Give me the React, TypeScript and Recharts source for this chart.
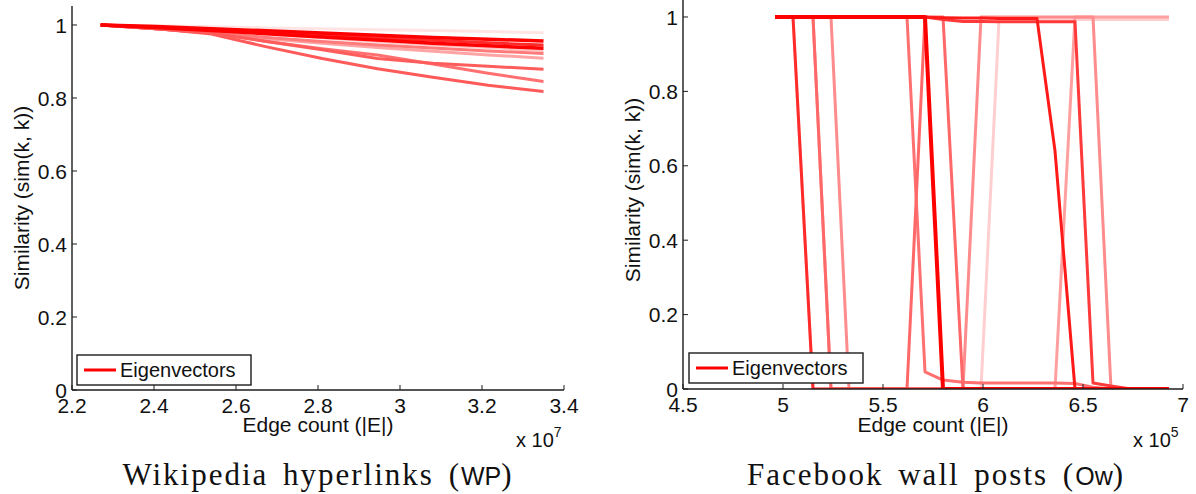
import { LineChart, Line, XAxis, YAxis } from 'recharts';

const SANS = '"Liberation Sans", Arial, Helvetica, sans-serif';
const SERIF = '"Liberation Serif", "Times New Roman", serif';
const INK = '#1c1c1c';
const TICK_LEN = 5;

// Wikipedia hyperlinks (WP): edge counts in units of 10^7
const wpEdges = [2.27, 2.405, 2.54, 2.675, 2.81, 2.945, 3.08, 3.215, 3.35];
const wpSimA = [1, 0.998, 0.995, 0.992, 0.99, 0.987, 0.985, 0.982, 0.979];
const wpSimB = [1, 0.993, 0.985, 0.975, 0.965, 0.955, 0.946, 0.938, 0.93];
const wpSimC = [1, 0.99, 0.978, 0.962, 0.95, 0.938, 0.928, 0.918, 0.909];
const wpSimD = [1, 0.99, 0.98, 0.966, 0.955, 0.945, 0.937, 0.929, 0.922];
const wpSimE = [1, 0.99, 0.977, 0.955, 0.935, 0.918, 0.893, 0.868, 0.845];
const wpSimF = [1, 0.99, 0.978, 0.955, 0.932, 0.908, 0.895, 0.887, 0.879];
const wpSimG = [1, 0.99, 0.975, 0.94, 0.908, 0.88, 0.857, 0.835, 0.818];
const wpSimH = [1, 0.994, 0.987, 0.98, 0.972, 0.965, 0.958, 0.951, 0.945];
const wpSimI = [1, 0.993, 0.985, 0.976, 0.967, 0.959, 0.95, 0.943, 0.936];
const wpSimJ = [1, 0.996, 0.99, 0.984, 0.978, 0.972, 0.966, 0.961, 0.956];
const wpXTicks = [2.2, 2.4, 2.6, 2.8, 3, 3.2, 3.4];

// Facebook wall posts (Ow): edge counts in units of 10^5
const owEdges = [
  4.96, 5.05, 5.15, 5.24, 5.33, 5.43, 5.52, 5.62, 5.71, 5.8, 5.9,
  5.99, 6.08, 6.18, 6.27, 6.36, 6.46, 6.55, 6.64, 6.74, 6.83, 6.93,
];
const owSimA = [1, 1, 0, 0, 0, 0, 0, 0, 0, 0, 0, 0, 0.993, 0.993, 0.993, 0.993, 0.993, 0.993, 0.993, 0.993, 0.993, 0.993];
const owSimB = [1, 1, 1, 0, 0, 0, 0, 0, 0, 0, 0, 0, 0, 0, 0, 0, 1, 1, 1, 1, 1, 1];
const owSimC = [1, 1, 1, 1, 0, 0, 0, 0, 0, 0, 0, 1, 1, 1, 1, 1, 1, 1, 0, 0, 0, 0];
const owSimD = [1, 1, 1, 1, 1, 1, 1, 1, 0.046, 0.024, 0.018, 0.016, 0.016, 0.016, 0.016, 0.016, 0.015, 0.005, 0, 0, 0, 0];
const owSimE = [1, 1, 1, 0, 0, 0, 0, 0, 1, 1, 0, 0, 0, 0, 0, 0, 0, 0, 0, 0, 0, 0];
const owSimF = [1, 1, 1, 1, 1, 1, 1, 1, 1, 0.993, 0.988, 0.988, 0.987, 0.987, 0.987, 0.987, 0.987, 0.016, 0.008, 0, 0, 0];
const owSimG = [1, 1, 1, 1, 1, 1, 1, 1, 0.999, 0.998, 0.997, 0.997, 0.996, 0.996, 0.996, 0.64, 0, 0, 0, 0, 0, 0];
const owSimH = [1, 1, 0, 0, 0, 0, 0, 0, 0, 0, 0, 0, 0, 0, 0, 0, 0, 0, 0, 0, 0, 0];
const owSimI = [1, 1, 1, 1, 1, 1, 1, 1, 1, 0, 0, 0, 0, 0, 0, 0, 0, 0, 0, 0, 0, 0];
const owXTicks = [4.5, 5, 5.5, 6, 6.5, 7];

const simTicks = [0, 0.2, 0.4, 0.6, 0.8, 1];

// drawing order: palest first, strongest on top
const wpSeries = [
  { key: 'a', values: wpSimA, color: '#ffe4e4', width: 3 },
  { key: 'b', values: wpSimB, color: '#ffc4c4', width: 3 },
  { key: 'c', values: wpSimC, color: '#ffa4a4', width: 3 },
  { key: 'd', values: wpSimD, color: '#ff7a7a', width: 3 },
  { key: 'e', values: wpSimE, color: '#ff7070', width: 3 },
  { key: 'f', values: wpSimF, color: '#ff5c5c', width: 3 },
  { key: 'g', values: wpSimG, color: '#ff5a5a', width: 3 },
  { key: 'h', values: wpSimH, color: '#ff2a2a', width: 3 },
  { key: 'i', values: wpSimI, color: '#ff0000', width: 3.5 },
  { key: 'j', values: wpSimJ, color: '#ff0000', width: 3.5 },
];

const owSeries = [
  { key: 'a', values: owSimA, color: '#ffcfcf', width: 3 },
  { key: 'b', values: owSimB, color: '#ffa0a0', width: 3 },
  { key: 'c', values: owSimC, color: '#ff8c8c', width: 3 },
  { key: 'd', values: owSimD, color: '#ff7070', width: 3 },
  { key: 'e', values: owSimE, color: '#ff6868', width: 3 },
  { key: 'f', values: owSimF, color: '#ff3a3a', width: 3 },
  { key: 'g', values: owSimG, color: '#ff1a1a', width: 3 },
  { key: 'h', values: owSimH, color: '#ff2a2a', width: 3 },
  { key: 'i', values: owSimI, color: '#ff0000', width: 4 },
];

type Series = { key: string; values: number[]; color: string; width: number };

const toRows = (edges: number[], series: Series[]) =>
  edges.map((edge, i) => {
    const row: Record<string, number> = { edge };
    series.forEach((s) => {
      row[s.key] = s.values[i];
    });
    return row;
  });

const wpRows = toRows(wpEdges, wpSeries);
const owRows = toRows(owEdges, owSeries);

const tickText = { fontFamily: SANS, fontSize: 21, fill: '#111' };

// MATLAB-style ticks: marks point into the axes box
const LeftTick = ({ x, y, payload }: any) => (
  <g>
    <line x1={x + 5} x2={x + 5 + TICK_LEN} y1={y} y2={y} stroke={INK} strokeWidth={1} />
    <text x={x} y={y} dy="0.36em" textAnchor="end" {...tickText}>
      {payload.value}
    </text>
  </g>
);

const BottomTick = ({ x, y, payload }: any) => (
  <g>
    <line x1={x} x2={x} y1={y} y2={y - TICK_LEN} stroke={INK} strokeWidth={1} />
    <text x={x} y={y + 23} textAnchor="middle" {...tickText}>
      {payload.value}
    </text>
  </g>
);

const TopTick = ({ x, y }: any) => (
  <line x1={x} x2={x} y1={y} y2={y + TICK_LEN} stroke={INK} strokeWidth={1} />
);

const RightTick = ({ x, y }: any) => (
  <line x1={x} x2={x - TICK_LEN} y1={y} y2={y} stroke={INK} strokeWidth={1} />
);

const axisLine = { stroke: INK, strokeWidth: 1.4 };

type PanelProps = {
  rows: Record<string, number>[];
  series: Series[];
  xDomain: [number, number];
  xTicks: number[];
  yMax: number;
  width: number;
  height: number;
  yAxisWidth: number;
  margin: { top: number; right: number; bottom: number; left: number };
};

function SimilarityPanel({ rows, series, xDomain, xTicks, yMax, width, height, yAxisWidth, margin }: PanelProps) {
  return (
    <LineChart width={width} height={height} data={rows} margin={margin}>
      <XAxis
        dataKey="edge"
        type="number"
        domain={xDomain}
        ticks={xTicks}
        allowDataOverflow
        height={30}
        tickSize={0}
        tickMargin={0}
        tickLine={false}
        axisLine={axisLine}
        tick={<BottomTick />}
      />
      <XAxis
        xAxisId="top"
        orientation="top"
        dataKey="edge"
        type="number"
        domain={xDomain}
        ticks={xTicks}
        allowDataOverflow
        height={0}
        tickSize={0}
        tickMargin={0}
        tickLine={false}
        axisLine={axisLine}
        tick={<TopTick />}
      />
      <YAxis
        type="number"
        domain={[0, yMax]}
        ticks={simTicks}
        allowDataOverflow
        width={yAxisWidth}
        tickSize={0}
        tickMargin={5}
        tickLine={false}
        axisLine={axisLine}
        tick={<LeftTick />}
      />
      <YAxis
        yAxisId="right"
        orientation="right"
        type="number"
        domain={[0, yMax]}
        ticks={simTicks}
        allowDataOverflow
        width={0}
        tickSize={0}
        tickMargin={0}
        tickLine={false}
        axisLine={axisLine}
        tick={<RightTick />}
      />
      {series.map((s) => (
        <Line
          key={s.key}
          type="linear"
          dataKey={s.key}
          stroke={s.color}
          strokeWidth={s.width}
          strokeLinejoin="round"
          dot={false}
          activeDot={false}
          isAnimationActive={false}
        />
      ))}
    </LineChart>
  );
}

function LegendBox({ x, y }: { x: number; y: number }) {
  return (
    <g>
      <rect x={x} y={y} width={174} height={30} fill="#fff" stroke={INK} strokeWidth={1.4} />
      <line x1={x + 7} x2={x + 39} y1={y + 15} y2={y + 15} stroke="#ff0000" strokeWidth={3} />
      <text x={x + 43} y={y + 22} fontFamily={SANS} fontSize={20} fill="#111">
        Eigenvectors
      </text>
    </g>
  );
}

function Annotations() {
  const label = { fontFamily: SANS, fontSize: 21, fill: '#111' };
  const caption = { fontFamily: SERIF, fontSize: 31, letterSpacing: 2, wordSpacing: 5, fill: '#111' };
  return (
    <svg
      width={1196}
      height={494}
      style={{ position: 'absolute', left: 0, top: 0, pointerEvents: 'none' }}
    >
      <LegendBox x={77} y={355} />
      <LegendBox x={689} y={353} />

      <text x={318} y={432} textAnchor="middle" {...label}>Edge count (|E|)</text>
      <text x={933} y={432} textAnchor="middle" {...label}>Edge count (|E|)</text>

      <text transform="translate(29,198) rotate(-90)" textAnchor="middle" {...label}>
        Similarity (sim(k, k))
      </text>
      <text transform="translate(640,190) rotate(-90)" textAnchor="middle" {...label}>
        Similarity (sim(k, k))
      </text>

      <text x={516} y={447} fontFamily={SANS} fontSize={20} fill="#111">
        x 10<tspan fontSize={14} dy={-10}>7</tspan>
      </text>
      <text x={1133} y={447} fontFamily={SANS} fontSize={20} fill="#111">
        x 10<tspan fontSize={14} dy={-10}>5</tspan>
      </text>

      <text x={318} y={485} textAnchor="middle" {...caption}>
        Wikipedia hyperlinks (<tspan fontFamily={SANS} fontSize={25} letterSpacing={0}>WP</tspan>)
      </text>
      <text x={936} y={485} textAnchor="middle" {...caption}>
        Facebook wall posts (<tspan fontFamily={SANS} fontSize={25} letterSpacing={0}>Ow</tspan>)
      </text>
    </svg>
  );
}

export default function App() {
  return (
    <div
      style={{
        position: 'absolute',
        left: 0,
        top: 0,
        width: 1196,
        height: 494,
        overflow: 'hidden',
        background: '#fff',
      }}
    >
      <div style={{ position: 'absolute', left: 0, top: 0 }}>
        <SimilarityPanel
          rows={wpRows}
          series={wpSeries}
          xDomain={[2.2, 3.4]}
          xTicks={wpXTicks}
          yMax={1.052}
          width={600}
          height={494}
          yAxisWidth={72}
          margin={{ top: 6, right: 36, bottom: 74, left: 0 }}
        />
      </div>
      <div style={{ position: 'absolute', left: 600, top: -3 }}>
        <SimilarityPanel
          rows={owRows}
          series={owSeries}
          xDomain={[4.5, 7]}
          xTicks={owXTicks}
          yMax={1.051}
          width={596}
          height={497}
          yAxisWidth={83}
          margin={{ top: 1, right: 13, bottom: 75, left: 0 }}
        />
      </div>
      <Annotations />
    </div>
  );
}
